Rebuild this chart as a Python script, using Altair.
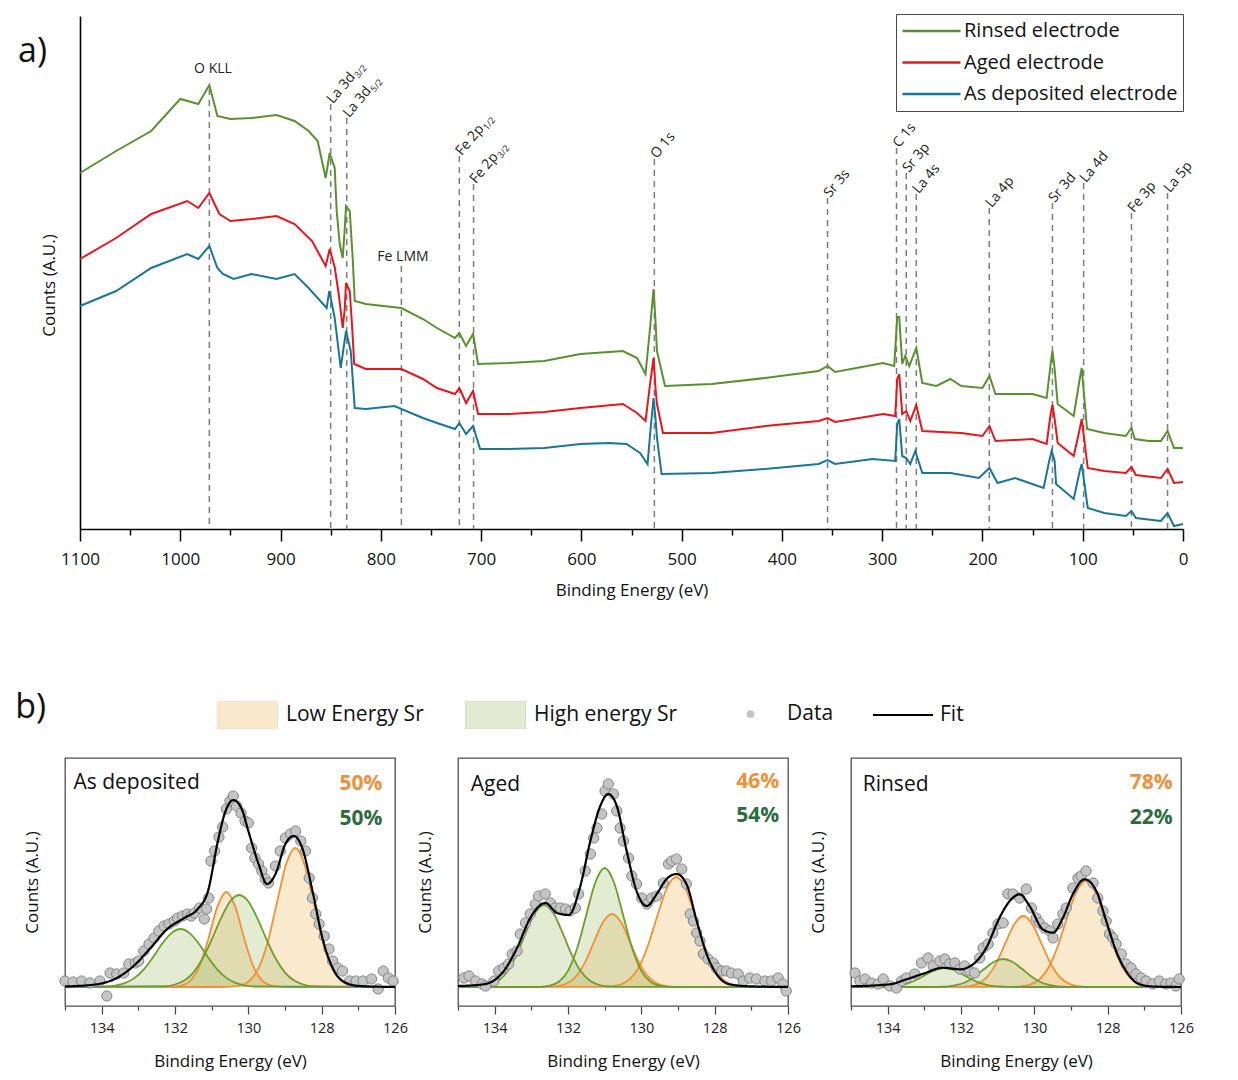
import altair as alt
import pandas as pd

FONT = "Open Sans"

# ---------------- (a) XPS survey spectra ----------------
rinsed_E = [1100, 1064, 1029, 1000, 982, 971, 963, 950, 929, 904, 886, 872, 863, 855, 851, 846, 844, 841, 838, 836,
            834.7, 831, 828, 826, 815, 779.5, 758, 744, 726, 721.7, 715, 708, 703, 672.6, 637, 601, 558.6, 544.5,
            536, 531.5, 528, 525.9, 524.6, 516.6, 470, 416.8, 363.4, 354.5, 347, 299, 288, 285, 283, 280, 277, 273,
            266, 260, 246, 232, 221, 200, 193, 187, 150, 136, 132, 130.2, 128, 125, 109, 103, 101, 95.7, 78.5, 57,
            51.4, 48, 34, 22, 15.4, 9, 0]
rinsed_I = [356, 378, 398, 430, 425, 444, 413, 410, 411, 414, 408, 398, 388, 351, 376, 361, 318, 285, 271, 300,
            323, 318, 270, 228, 225, 221, 210, 201, 191, 196, 183, 195, 165, 166, 168, 175, 178, 171,
            155, 201, 240, 205, 178, 143, 145, 151, 158, 163, 157, 166, 163, 212, 212, 165, 173, 163,
            181, 146, 143, 150, 143, 141, 153, 135, 135, 131, 165, 178, 160, 125, 113, 150, 161, 100, 96, 93,
            101, 90, 88, 88, 98, 81, 81]

aged_E = [1100, 1064, 1029, 993, 982, 971, 961, 950, 929, 904, 886, 868.6, 855, 851, 846, 842, 838, 836, 834.7, 831,
          828.5, 826.5, 815, 779.5, 758, 744, 726, 721.7, 715, 708, 703, 672.6, 637, 601, 558.6, 544.5, 536, 531.5,
          528, 526, 524.6, 518.6, 470, 416.8, 363.4, 354.5, 347, 299, 287, 285, 283, 280, 276, 272, 266, 260, 221,
          200, 193, 187, 150, 136, 132, 130.2, 128, 125, 109, 103, 101, 95, 78.5, 57, 51.4, 47, 22, 15.4, 9, 0]
aged_I = [270, 291, 315, 328, 321, 336, 315, 308, 310, 313, 305, 288, 263, 280, 262, 235, 201, 220, 246, 238,
          200, 165, 160, 160, 150, 141, 135, 141, 126, 138, 115, 115, 117, 121, 125, 116, 108, 145,
          171, 140, 125, 96, 96, 103, 108, 111, 107, 115, 113, 150, 155, 115, 118, 108, 124, 98, 96,
          93, 103, 88, 90, 85, 115, 124, 110, 86, 73, 100, 110, 61, 58, 56, 62, 54, 51, 60, 46, 47]

dep_E = [1100, 1064, 1029, 993, 982, 971, 963, 957.5, 946.8, 929, 904, 886, 872, 854, 851.4, 846, 840, 834.7, 830,
         826, 815, 786.5, 758, 744, 726, 721.7, 715, 708, 701, 672.6, 637, 601, 572.8, 555, 541.5, 534, 531, 528,
         526, 524.6, 520, 470, 416.8, 363.4, 354.5, 347, 309.6, 287, 285, 283, 280, 276, 272, 267, 260, 232, 203.5,
         193, 185, 167.5, 153.2, 139, 133, 131, 128, 126.6, 109, 103, 101, 95, 78.5, 57, 51.4, 47, 22, 15.4, 9, 0]
dep_I = [223, 238, 261, 275, 270, 283, 261, 255, 250, 255, 250, 255, 241, 221, 238, 211, 161, 198, 178,
         121, 120, 123, 111, 106, 100, 106, 95, 103, 80, 80, 81, 85, 86, 85, 76, 65, 100, 131,
         110, 91, 55, 56, 60, 65, 69, 65, 70, 68, 105, 110, 73, 71, 65, 78, 56, 56, 51,
         61, 46, 51, 46, 41, 70, 78, 68, 45, 30, 58, 65, 21, 16, 13, 18, 11, 8, 16, 3, 5]

series_names = ["Rinsed electrode", "Aged electrode", "As deposited electrode"]
series_colors = ["#5a9130", "#e5171e", "#1a7696"]

# dashed marker lines (energy, top of line)
peak_E = [971, 850, 834, 779.5, 721.7, 707.5, 527.2, 354.5, 285.7, 276, 266, 193.2, 130.2, 99.1, 51.4, 15.4]
peak_top = [440, 425, 411, 263, 373, 345, 370, 331, 381, 356, 335, 321, 326, 346, 316, 336]

# rotated peak labels
rot_E = [850, 834, 721.7, 707.5, 527.2, 354.5, 285.7, 276, 266, 193.2, 130.2, 99.1, 51.4, 15.4]
rot_I = [428, 414, 376, 348, 373, 334, 384, 359, 338, 324, 329, 349, 319, 339]
rot_text = ["La 3d", "La 3d", "Fe 2p", "Fe 2p", "O 1s", "Sr 3s", "C 1s", "Sr 3p", "La 4s", "La 4p",
            "Sr 3d", "La 4d", "Fe 3p", "La 5p"]
rot_sub = ["3/2", "5/2", "1/2", "3/2", "", "", "", "", "", "", "", "", "", ""]

flat_E = [967.4, 777.9]
flat_I = [460, 272]
flat_text = ["O KLL", "Fe LMM"]

top_ticks = [0, 50, 100, 150, 200, 250, 300, 350, 400, 450, 500, 550, 600, 650, 700, 750, 800, 850, 900,
             950, 1000, 1050, 1100]

# ---------------- (b) Sr 3d high-resolution fits ----------------
b_ticks = [126, 127, 128, 129, 130, 131, 132, 133, 134, 135]

# As deposited
p1_low_a_E = [135.0, 130.72, 130.47, 130.22, 129.97, 129.72, 129.47, 129.22, 128.97, 128.72, 128.47, 128.22, 127.97,
              127.72, 127.47, 127.22, 126.97, 126.72, 126.0]
p1_low_a_I = [0, 0, 0.3, 1.5, 6.1, 18.8, 45.2, 84.4, 122.6, 139, 122.6, 84.4, 45.2, 18.8, 6.1, 1.5, 0.3, 0, 0]
p1_low_b_E = [135.0, 132.6, 132.35, 132.1, 131.85, 131.6, 131.35, 131.1, 130.85, 130.6, 130.35, 130.1, 129.85, 129.6,
              129.35, 129.1, 128.85, 128.6, 126.0]
p1_low_b_I = [0, 0, 0, 0.2, 1.1, 5.6, 19.3, 46.8, 79.6, 95, 79.6, 46.8, 19.3, 5.6, 1.1, 0.2, 0, 0, 0]
p1_high_c_E = [135.0, 132.25, 132.0, 131.75, 131.5, 131.25, 131.0, 130.75, 130.5, 130.25, 130.0, 129.75, 129.5, 129.25,
               129.0, 128.75, 128.5, 128.25, 126.0]
p1_high_c_I = [0, 0.8, 2.5, 6.4, 14.4, 28.2, 47.3, 68.4, 85.5, 92, 85.5, 68.4, 47.3, 28.2, 14.4, 6.4, 2.5, 0.8, 0]
p1_high_d_E = [135.0, 133.85, 133.6, 133.35, 133.1, 132.85, 132.6, 132.35, 132.1, 131.85, 131.6, 131.35, 131.1, 130.85,
               130.6, 130.35, 130.1, 129.85, 126.0]
p1_high_d_I = [0, 0.5, 1.6, 4.1, 9.1, 17.7, 29.8, 43.2, 53.9, 58, 53.9, 43.2, 29.8, 17.7, 9.1, 4.1, 1.6, 0.5, 0]
p1_fit_E = [135.0, 134.14, 133.59, 133.13, 132.67, 132.21, 131.75, 131.38, 131.10, 130.83, 130.64, 130.41, 130.18,
            130.00, 129.72, 129.49, 129.26, 128.99, 128.76, 128.53, 128.25, 127.98, 127.70, 127.33, 126.97, 126.0]
p1_fit_I = [0.5, 2.7, 9, 21, 39, 58, 69, 78, 96, 146, 174, 187, 178, 156, 123, 103, 113, 143, 151, 139, 96, 49, 19,
            4, 1, 0]
p1_data_E = [135.0, 134.78, 134.55, 134.32, 134.05, 133.86, 133.77, 133.59, 133.40, 133.26, 133.08, 132.99, 132.85,
             132.71, 132.57, 132.44, 132.30, 132.16, 132.02, 131.93, 131.79, 131.66, 131.56, 131.47, 131.33, 131.20,
             131.14, 131.08, 131.02, 130.92, 130.80, 130.70, 130.60, 130.50, 130.41, 130.32, 130.20, 130.09, 130.00,
             129.91, 129.82, 129.72, 129.63, 129.54, 129.45, 129.26, 129.13, 128.99, 128.85, 128.71, 128.57, 128.44,
             128.34, 128.25, 128.16, 128.07, 127.93, 127.80, 127.70, 127.56, 127.43, 127.24, 127.06, 126.87, 126.64,
             126.46, 126.32, 126.18, 126.05]
p1_data_I = [6, 5, 6, 4, 6, -9, 14, 13, 14, 23, 24, 26, 36, 43, 49, 56, 61, 63, 66, 69, 71, 73, 71, 74, 79, 68, 78, 89,
             126, 136, 150, 160, 178, 186, 191, 181, 174, 166, 164, 139, 129, 123, 116, 108, 104, 121, 136, 149, 153,
             156, 146, 136, 109, 89, 73, 63, 51, 38, 26, 19, 16, 6, 6, 6, 8, -2, 16, 9, 6]

# Aged
p2_low_a_E = [135.0, 131.05, 130.8, 130.55, 130.3, 130.05, 129.8, 129.55, 129.3, 129.05, 128.8, 128.55, 128.3, 128.05,
              127.8, 127.55, 127.3, 127.05, 126.0]
p2_low_a_I = [0, 0.1, 0.7, 2.7, 8.3, 21.0, 43.5, 72.8, 99.2, 110, 99.2, 72.8, 43.5, 21.0, 8.3, 2.7, 0.7, 0.1, 0]
p2_low_b_E = [135.0, 132.8, 132.55, 132.3, 132.05, 131.8, 131.55, 131.3, 131.05, 130.8, 130.55, 130.3, 130.05, 129.8,
              129.55, 129.3, 129.05, 128.8, 126.0]
p2_low_b_I = [0, 0, 0.1, 0.8, 3.2, 9.9, 23.7, 44.3, 64.4, 73, 64.4, 44.3, 23.7, 9.9, 3.2, 0.8, 0.1, 0, 0]
p2_high_c_E = [135.0, 133.0, 132.75, 132.5, 132.25, 132.0, 131.75, 131.5, 131.25, 131.0, 130.75, 130.5, 130.25, 130.0,
               129.75, 129.5, 129.25, 129.0, 126.0]
p2_high_c_I = [0, 0, 0.2, 1.3, 5.2, 16.1, 38.7, 72.2, 105, 119, 105, 72.2, 38.7, 16.1, 5.2, 1.3, 0.2, 0, 0]
p2_high_d_E = [135.0, 134.65, 134.4, 134.15, 133.9, 133.65, 133.4, 133.15, 132.9, 132.65, 132.4, 132.15, 131.9, 131.65,
               131.4, 131.15, 130.9, 130.65, 126.0]
p2_high_d_I = [0, 0.1, 0.5, 2.0, 6.2, 15.7, 32.4, 54.3, 74, 82, 74, 54.3, 32.4, 15.7, 6.2, 2.0, 0.5, 0.1, 0]
p2_fit_E = [135.0, 134.3, 133.75, 133.39, 133.03, 132.62, 132.3, 131.98, 131.67, 131.39, 131.12, 130.9, 130.67, 130.4,
            130.13, 129.85, 129.58, 129.31, 129.04, 128.77, 128.49, 128.22, 127.95, 127.59, 127.04, 126.0]
p2_fit_I = [1, 2.7, 16, 39, 69, 84, 74, 72, 100, 146, 181, 193, 181, 136, 96, 81, 93, 108, 113, 103, 66, 33, 13, 2.7,
            0.7, 0]
p2_data_E = [134.84, 134.70, 134.52, 134.34, 134.25, 134.02, 133.89, 133.75, 133.62, 133.52, 133.39, 133.30, 133.16,
             133.03, 132.89, 132.80, 132.62, 132.48, 132.35, 132.21, 132.07, 131.94, 131.80, 131.71, 131.53, 131.39,
             131.30, 131.21, 131.08, 130.99, 130.90, 130.76, 130.67, 130.58, 130.49, 130.35, 130.26, 130.13, 129.99,
             129.85, 129.72, 129.58, 129.40, 129.26, 129.17, 129.04, 128.90, 128.77, 128.67, 128.58, 128.49, 128.40,
             128.31, 128.18, 128.04, 127.95, 127.81, 127.68, 127.54, 127.36, 127.22, 127.04, 126.86, 126.63, 126.45,
             126.27, 126.14, 126.05]
p2_data_I = [9, 11, 6, 3, 1, 6, 16, 19, 23, 33, 36, 53, 64, 73, 83, 91, 93, 84, 79, 79, 78, 76, 79, 93, 116, 133, 149,
             159, 173, 196, 203, 193, 176, 159, 146, 129, 111, 103, 89, 83, 89, 91, 104, 123, 126, 128, 118, 103, 73,
             66, 54, 46, 33, 28, 24, 19, 16, 16, 14, 13, 6, 9, 8, 6, 6, 9, 3, -4]

# Rinsed
p3_low_a_E = [135.0, 130.6, 130.35, 130.1, 129.85, 129.6, 129.35, 129.1, 128.85, 128.6, 128.35, 128.1, 127.85, 127.6,
              127.35, 127.1, 126.85, 126.6, 126.0]
p3_low_a_I = [0, 0.1, 0.7, 2.6, 8.0, 20.2, 41.9, 70.2, 95.6, 106, 95.6, 70.2, 41.9, 20.2, 8.0, 2.6, 0.7, 0.1, 0]
p3_low_b_E = [135.0, 132.3, 132.05, 131.8, 131.55, 131.3, 131.05, 130.8, 130.55, 130.3, 130.05, 129.8, 129.55, 129.3,
              129.05, 128.8, 128.55, 128.3, 126.0]
p3_low_b_I = [0, 0, 0.1, 0.8, 3.1, 9.6, 23.1, 43.1, 62.6, 71, 62.6, 43.1, 23.1, 9.6, 3.1, 0.8, 0.1, 0, 0]
p3_high_c_E = [135.0, 132.85, 132.6, 132.35, 132.1, 131.85, 131.6, 131.35, 131.1, 130.85, 130.6, 130.35, 130.1, 129.85,
               129.6, 129.35, 129.1, 128.85, 126.0]
p3_high_c_I = [0, 0, 0.2, 0.7, 2.1, 5.3, 11.1, 18.5, 25.3, 28, 25.3, 18.5, 11.1, 5.3, 2.1, 0.7, 0.2, 0, 0]
p3_high_d_E = [135.0, 134.45, 134.2, 133.95, 133.7, 133.45, 133.2, 132.95, 132.7, 132.45, 132.2, 131.95, 131.7, 131.45,
               131.2, 130.95, 130.7, 130.45, 126.0]
p3_high_d_I = [0, 0, 0.1, 0.5, 1.4, 3.6, 7.5, 12.6, 17.1, 19, 17.1, 12.6, 7.5, 3.6, 1.4, 0.5, 0.1, 0, 0]
p3_fit_E = [135.0, 133.94, 133.49, 133.03, 132.49, 132.03, 131.67, 131.31, 130.95, 130.67, 130.4, 130.13, 129.77,
            129.49, 129.22, 128.95, 128.63, 128.31, 128.04, 127.77, 127.5, 127.13, 126.68, 126.0]
p3_fit_I = [0.7, 2.7, 7.7, 13.3, 19.3, 17.7, 22.7, 39.3, 69.3, 86, 92.7, 81, 57.7, 54.3, 69.3, 92.7, 107.7, 96, 66, 36,
            16, 2.7, 0.3, 0]
p3_data_E = [134.89, 134.76, 134.62, 134.44, 134.26, 134.12, 133.94, 133.76, 133.62, 133.49, 133.26, 133.08, 132.90,
             132.76, 132.58, 132.44, 132.31, 132.17, 132.03, 131.90, 131.76, 131.63, 131.49, 131.40, 131.26, 131.13,
             130.99, 130.85, 130.72, 130.58, 130.40, 130.22, 130.08, 129.95, 129.86, 129.72, 129.58, 129.49, 129.36,
             129.22, 129.13, 128.95, 128.81, 128.72, 128.59, 128.40, 128.27, 128.13, 128.04, 127.95, 127.86, 127.77,
             127.63, 127.50, 127.36, 127.23, 127.09, 126.95, 126.77, 126.59, 126.41, 126.27, 126.14, 126.05]
p3_data_I = [14, 6, 8, 4, 3, 8, 1, -1, 6, 9, 13, 24, 29, 21, 26, 28, 23, 24, 18, 21, 16, 14, 29, 39, 43, 54, 63, 64,
             93, 93, 89, 98, 79, 69, 64, 59, 56, 49, 63, 73, 79, 99, 109, 111, 116, 104, 89, 76, 66, 53, 49, 43, 33,
             23, 19, 13, 9, 6, 3, 6, 3, 4, 1, 8]

panel_names = ["As deposited", "Aged", "Rinsed"]
pct_low = ["50%", "46%", "78%"]
pct_high = ["50%", "54%", "22%"]
name_pos = [(134.77, 204), (134.65, 202), (134.68, 202)]
pct_pos = [(126.34, 203, 168), (126.24, 205, 171), (126.23, 204, 169)]

comp_names = ["Low Energy Sr", "High energy Sr"]
comp_fill = ["#ecb658", "#a6bd6d"]
comp_line = ["#f0913a", "#6f9c2e"]

# ======================= build (a) =======================
survey_rows = []
for nm, Es, Is in zip(series_names, [rinsed_E, aged_E, dep_E], [rinsed_I, aged_I, dep_I]):
    survey_rows += [{"E": e, "I": v, "sample": nm} for e, v in zip(Es, Is)]
survey = pd.DataFrame(survey_rows)
rules_df = pd.DataFrame({"E": peak_E, "I": peak_top})
rot_df = pd.DataFrame({"E": rot_E, "I": rot_I, "t": rot_text, "s": rot_sub})
flat_df = pd.DataFrame({"E": flat_E, "I": flat_I, "t": flat_text})
alab_df = pd.DataFrame({"E": [1161.8], "I": [477], "t": ["a)"]})

xa = alt.X("E:Q", title="Binding Energy (eV)",
           scale=alt.Scale(domain=[0, 1100], reverse=True, range=[15, 1118]),
           axis=alt.Axis(values=top_ticks, format="d",
                         labelExpr="datum.value % 100 === 0 ? datum.label : ''",
                         tickSize={"condition": {"test": "datum.value % 100 === 0", "value": 12}, "value": 6},
                         tickColor="black", tickWidth=1.5, domainColor="black", domainWidth=1.6,
                         labelFontSize=17, labelPadding=10, labelColor="#111", labelFlush=False, labelOverlap=False,
                         titleFontSize=17, titleFontWeight="normal", titlePadding=15, titleColor="#111", grid=False))
ya = alt.Y("I:Q", title="Counts (A.U.)",
           scale=alt.Scale(domain=[0, 513], nice=False),
           axis=alt.Axis(ticks=False, labels=False, domain=True, domainColor="black", domainWidth=1.6,
                         offset=-15, titleFontSize=17, titleFontWeight="normal", titlePadding=22,
                         titleColor="#111", titleY=269, grid=False))

rules = alt.Chart(rules_df).mark_rule(strokeDash=[6, 5], color="#7c7c7c", strokeWidth=1.5).encode(
    x=xa, y=ya, y2=alt.datum(0))
lines = alt.Chart(survey).mark_line(strokeWidth=2).encode(
    x=xa, y=ya,
    color=alt.Color("sample:N", scale=alt.Scale(domain=series_names, range=series_colors),
                    legend=alt.Legend(title=None, orient="none", legendX=831, legendY=-2, symbolType="stroke",
                                      symbolSize=3364, symbolStrokeWidth=2.5, clipHeight=24, rowPadding=7.5,
                                      padding=5, strokeColor="#4a4a4a", fillColor="white", labelFont=FONT,
                                      labelFontSize=20, labelOffset=2, labelColor="#111", labelLimit=400)))
rot_lab = alt.Chart(rot_df).mark_text(angle=310, align="left", baseline="middle", dx=-1, fontSize=14,
                                      font=FONT, color="#222").encode(x=xa, y=ya, text="t:N")
sub_lab = alt.Chart(rot_df).transform_filter("datum.s != ''").mark_text(
    angle=310, align="left", baseline="middle", dx=35, dy=4, fontSize=9, font=FONT, color="#222").encode(
    x=xa, y=ya, text="s:N")
flat_lab = alt.Chart(flat_df).mark_text(align="center", baseline="middle", fontSize=14, font=FONT,
                                        color="#222").encode(x=xa, y=ya, text="t:N")
a_lab = alt.Chart(alab_df).mark_text(align="left", baseline="middle", fontSize=34, font=FONT,
                                     color="#111").encode(x=xa, y=ya, text="t:N")

top = alt.layer(rules, lines, rot_lab, sub_lab, flat_lab, a_lab).properties(
    width=1118, height=513, view=alt.ViewBackground(stroke="transparent"))

# ======================= build (b) =======================
fill_legend = alt.Legend(title=None, orient="none", legendX=152, legendY=685, direction="horizontal",
                         symbolType="M-1,-0.4667H1V0.4667H-1Z", symbolSize=3600, symbolOpacity=0.3,
                         symbolStrokeColor="#cfc6b4", symbolStrokeWidth=1, clipHeight=28, labelFont=FONT,
                         labelFontSize=21, labelColor="#111", labelOffset=8, columnPadding=41, padding=0)
shape_legend = alt.Legend(title=None, orient="none", legendX=675, legendY=684, symbolSize=60,
                          symbolFillColor="#c6c6c6", symbolStrokeColor="#888888", symbolStrokeWidth=1,
                          clipHeight=28, labelFont=FONT, labelFontSize=21, labelColor="#111", labelOffset=26,
                          padding=0)
dash_legend = alt.Legend(title=None, orient="none", legendX=807, legendY=685, symbolType="stroke",
                         symbolSize=3600, symbolStrokeColor="black", symbolStrokeWidth=2, clipHeight=28,
                         labelFont=FONT, labelFontSize=21, labelColor="#111", labelOffset=6, padding=0)

panel_comps = [
    [(p1_low_a_E, p1_low_a_I, 0), (p1_low_b_E, p1_low_b_I, 0), (p1_high_c_E, p1_high_c_I, 1),
     (p1_high_d_E, p1_high_d_I, 1)],
    [(p2_low_a_E, p2_low_a_I, 0), (p2_low_b_E, p2_low_b_I, 0), (p2_high_c_E, p2_high_c_I, 1),
     (p2_high_d_E, p2_high_d_I, 1)],
    [(p3_low_a_E, p3_low_a_I, 0), (p3_low_b_E, p3_low_b_I, 0), (p3_high_c_E, p3_high_c_I, 1),
     (p3_high_d_E, p3_high_d_I, 1)],
]
panel_fit = [(p1_fit_E, p1_fit_I), (p2_fit_E, p2_fit_I), (p3_fit_E, p3_fit_I)]
panel_data = [(p1_data_E, p1_data_I), (p2_data_E, p2_data_I), (p3_data_E, p3_data_I)]


def make_panel(i):
    rows = []
    for j, (Es, Is, k) in enumerate(panel_comps[i]):
        rows += [{"E": e, "I": v, "comp": "c%d" % j, "kind": comp_names[k]} for e, v in zip(Es, Is)]
    comp_df = pd.DataFrame(rows)
    fit_df = pd.DataFrame({"E": panel_fit[i][0], "I": panel_fit[i][1], "kind": "Fit"})
    pts_df = pd.DataFrame({"E": panel_data[i][0], "I": panel_data[i][1], "kind": "Data"})
    name_df = pd.DataFrame({"E": [name_pos[i][0]], "I": [name_pos[i][1]], "t": [panel_names[i]]})
    lo_df = pd.DataFrame({"E": [pct_pos[i][0]], "I": [pct_pos[i][1]], "t": [pct_low[i]]})
    hi_df = pd.DataFrame({"E": [pct_pos[i][0]], "I": [pct_pos[i][2]], "t": [pct_high[i]]})

    x = alt.X("E:Q", title="Binding Energy (eV)",
              scale=alt.Scale(domain=[126, 135], reverse=True, nice=False),
              axis=alt.Axis(values=b_ticks, format="d",
                            labelExpr="datum.value % 2 === 0 ? datum.label : ''",
                            tickSize={"condition": {"test": "datum.value % 2 === 0", "value": 8}, "value": 4},
                            tickColor="#444", tickWidth=1.2, domain=False, grid=False,
                            labelFontSize=14.5, labelPadding=7, labelColor="#222", labelFlush=False,
                            labelOverlap=False, titleFontSize=17, titleFontWeight="normal",
                            titlePadding=19, titleColor="#111"))
    y = alt.Y("I:Q", title="Counts (A.U.)", stack=None,
              scale=alt.Scale(domain=[-19, 229], nice=False, zero=False),
              axis=alt.Axis(ticks=False, labels=False, domain=False, grid=False, titleFontSize=17,
                            titleFontWeight="normal", titlePadding=24, titleColor="#111"))

    areas = alt.Chart(comp_df).mark_area(fillOpacity=0.3, interpolate="monotone").encode(
        x=x, y=y, y2=alt.datum(0),
        fill=alt.Fill("kind:N", scale=alt.Scale(domain=comp_names, range=comp_fill), legend=fill_legend),
        detail="comp:N")
    clines = alt.Chart(comp_df).mark_line(strokeWidth=1.8, interpolate="monotone").encode(
        x=x, y=y,
        stroke=alt.Stroke("kind:N", scale=alt.Scale(domain=comp_names, range=comp_line), legend=None),
        detail="comp:N")
    pts = alt.Chart(pts_df).mark_point(filled=True, fill="#c4c4c4", stroke="#858585", strokeWidth=1, size=105,
                                       opacity=1).encode(
        x=x, y=y,
        shape=alt.Shape("kind:N", scale=alt.Scale(domain=["Data"], range=["circle"]), legend=shape_legend))
    fit = alt.Chart(fit_df).mark_line(color="black", strokeWidth=2.2, interpolate="monotone").encode(
        x=x, y=y,
        strokeDash=alt.StrokeDash("kind:N", scale=alt.Scale(domain=["Fit"], range=[[1, 0]]), legend=dash_legend))
    name_t = alt.Chart(name_df).mark_text(align="left", baseline="middle", fontSize=21, font=FONT,
                                          color="#111").encode(x=x, y=y, text="t:N")
    lo_t = alt.Chart(lo_df).mark_text(align="right", baseline="middle", fontSize=21, font=FONT,
                                      fontWeight="bold", color="#f0903c").encode(x=x, y=y, text="t:N")
    hi_t = alt.Chart(hi_df).mark_text(align="right", baseline="middle", fontSize=21, font=FONT,
                                      fontWeight="bold", color="#2d6b3c").encode(x=x, y=y, text="t:N")
    layers = [areas, clines, pts, fit, name_t, lo_t, hi_t]
    if i == 0:
        b_df = pd.DataFrame({"E": [136.36], "I": [279], "t": ["b)"]})
        layers.append(alt.Chart(b_df).mark_text(align="left", baseline="middle", fontSize=34, font=FONT,
                                                color="#111").encode(x=x, y=y, text="t:N"))
    return alt.layer(*layers).properties(width=330, height=248,
                                         view=alt.ViewBackground(stroke="#4d4d4d", strokeWidth=1.3))


bottom = alt.hconcat(make_panel(0), make_panel(1), make_panel(2), spacing=63, bounds="flush")

chart = alt.vconcat(top, bottom, spacing=229, bounds="flush").properties(
    padding={"left": 14, "top": 13, "right": 5, "bottom": 5}
).configure(font=FONT).configure_view(stroke="#4d4d4d")

chart.save("out.html", embed_options={"renderer": "svg", "actions": False})
